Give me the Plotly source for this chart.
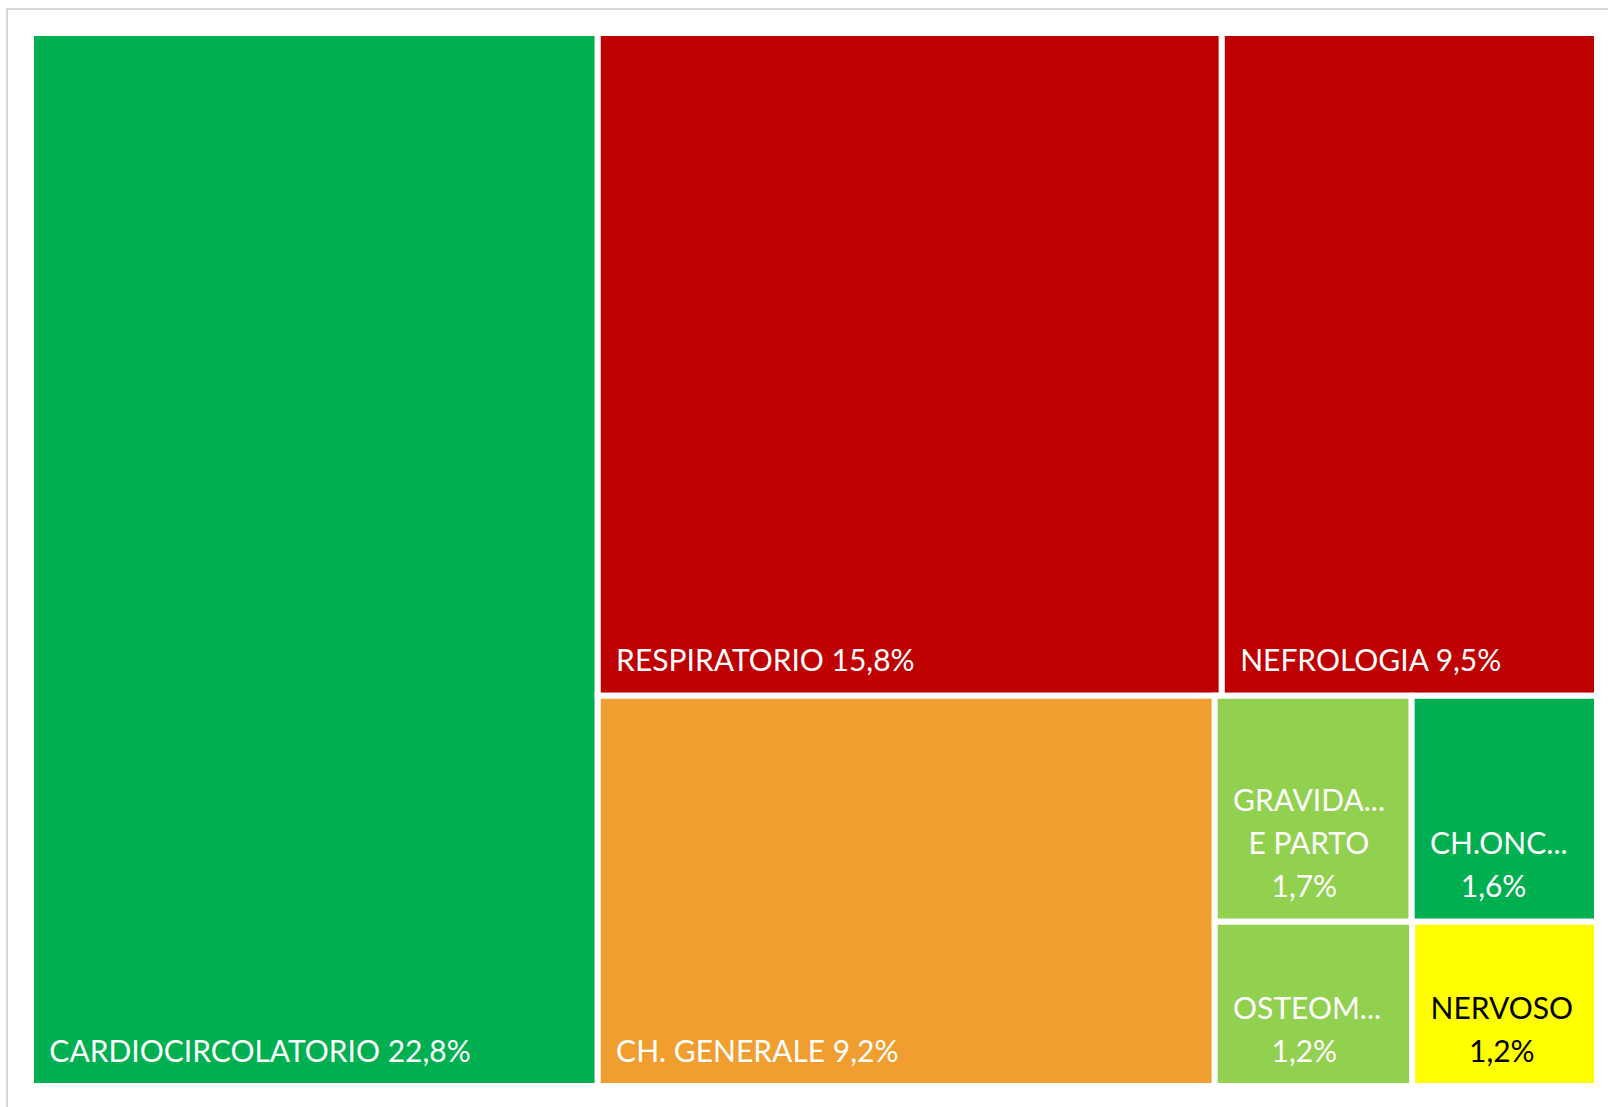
import plotly.graph_objects as go

# ---- Data ----
categories = ["CARDIOCIRCOLATORIO", "RESPIRATORIO", "NEFROLOGIA", "CH. GENERALE",
              "GRAVIDA... E PARTO", "CH.ONC...", "OSTEOM...", "NERVOSO"]
values = [22.8, 15.8, 9.5, 9.2, 1.7, 1.6, 1.24, 1.16]

# ---- Styles ----
colors = ["#00AF50", "#BE0000", "#BE0000", "#F09E2F",
          "#92D050", "#00AF50", "#92D050", "#FFFF00"]
text_colors = ["white", "white", "white", "white", "white", "white", "white", "black"]
FONT_PX = 30
BASE_PX = 16.5          # controls line spacing / bottom offset
NB = "\u00a0"
INDENT = 2              # leading non-breaking spaces
# small boxes: label lines and centering pads (in nbsp) per line
small_layout = {
    "GRAVIDA... E PARTO": (["GRAVIDA...", "E PARTO"], [0, 2, 5]),
    "CH.ONC...": (["CH.ONC..."], [0, 4]),
    "OSTEOM...": (["OSTEOM..."], [0, 5]),
    "NERVOSO": (["NERVOSO"], [0, 5]),
}


def fmt(v):
    return f"{v:.1f}%".replace(".", ",")


def big(s):
    return f"<span style='font-size:{FONT_PX}px'>{s}</span>"


tail = f"<br><span style='font-size:1px'>{NB}</span>"

texts = []
for c, v in zip(categories, values):
    if c in small_layout:
        lines, pads = small_layout[c]
        lines = lines + [fmt(v)]
        parts = [big(NB * (INDENT + p) + ln) for ln, p in zip(lines, pads)]
        texts.append("<br><br>".join(parts) + tail)
    else:
        texts.append(big(NB * INDENT + f"{c} {fmt(v)}") + tail)

fig = go.Figure(go.Treemap(
    labels=categories,
    parents=[""] * len(categories),
    values=values,
    text=texts,
    texttemplate="%{text}",
    textposition="bottom left",
    textfont=dict(family="Lato", size=BASE_PX, color=text_colors),
    marker=dict(colors=colors, line=dict(color="white", width=6),
                pad=dict(t=0, l=0, r=0, b=0)),
    tiling=dict(packing="squarify", pad=0),
    pathbar=dict(visible=False),
    sort=True,
    hoverinfo="label+value",
))

fig.update_layout(
    width=1608, height=1107,
    margin=dict(l=31, r=11, t=33, b=21),
    paper_bgcolor="white",
    shapes=[dict(type="rect", xref="paper", yref="paper",
                 x0=-0.0153, x1=1.05, y0=-0.05, y1=1.0228,
                 line=dict(color="#CBCBCB", width=1.5), layer="below")],
)

fig.write_html("out.html", config={"displayModeBar": False},
               post_script="document.body.style.margin='0';")
